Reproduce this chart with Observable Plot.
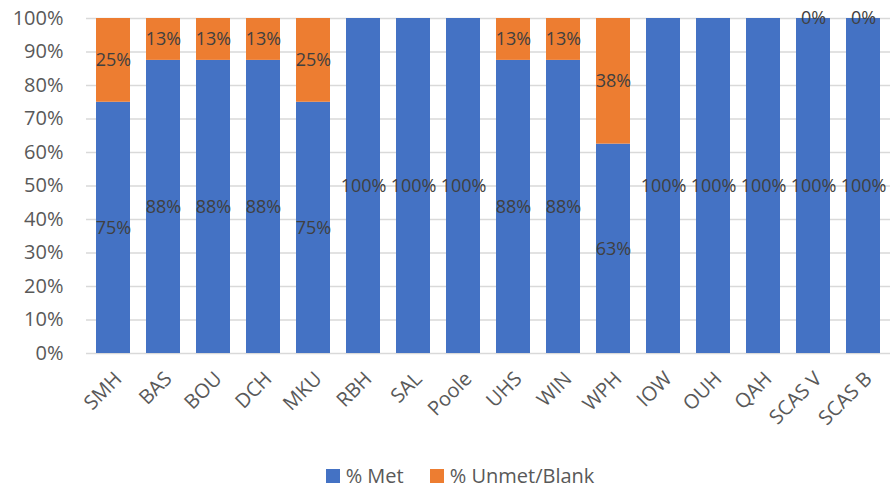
<!DOCTYPE html>
<html>
<head>
<meta charset="utf-8">
<script src="https://cdn.jsdelivr.net/npm/d3@7"></script>
<script src="https://cdn.jsdelivr.net/npm/@observablehq/plot@0.6"></script>
<style>
  body { margin: 0; background: #fff; font-family: "Open Sans", sans-serif; }
  #legend { height: 31px; line-height: 31px; display: flex; justify-content: center; align-items: center; font-size: 20px; color: #595959; padding-left: 28px; }
  .sw { display: inline-block; width: 14px; height: 14px; margin-right: 6px; }
  .item { display: flex; align-items: center; margin: 0 13px; }
</style>
</head>
<body>
<div id="chart"></div>
<div id="legend"></div>
<script>
const categories = ["SMH","BAS","BOU","DCH","MKU","RBH","SAL","Poole","UHS","WIN","WPH","IOW","OUH","QAH","SCAS V","SCAS B"];
const metValues = [0.75,0.875,0.875,0.875,0.75,1,1,1,0.875,0.875,0.625,1,1,1,1,1];
const unmetValues = [0.25,0.125,0.125,0.125,0.25,null,null,null,0.125,0.125,0.375,null,null,null,0,0];
const seriesNames = ["% Met","% Unmet/Blank"];
const seriesColors = ["#4472C4","#ED7D31"];
const yTicks = [0,0.1,0.2,0.3,0.4,0.5,0.6,0.7,0.8,0.9,1];

const table = [];
categories.forEach((c, i) => {
  table.push({cat: c, series: seriesNames[0], value: metValues[i], labeled: metValues[i] !== null});
  table.push({cat: c, series: seriesNames[1], value: unmetValues[i] ?? 0, labeled: unmetValues[i] !== null});
});

const fmt = d3.format(".0%");
const chart = Plot.plot({
  width: 892,
  height: 460,
  marginTop: 18,
  marginBottom: 107,
  marginLeft: 86,
  marginRight: 2,
  style: {fontFamily: "Open Sans, sans-serif", background: "white"},
  x: {domain: categories, paddingInner: 0.33, paddingOuter: 0.18, label: null},
  y: {domain: [0, 1], label: null},
  color: {domain: seriesNames, range: seriesColors},
  marks: [
    Plot.ruleY(yTicks, {stroke: "#d9d9d9", strokeWidth: 1.5}),
    Plot.barY(table, Plot.stackY({x: "cat", y: "value", z: "series", fill: "series", order: seriesNames})),
    Plot.text(table, Plot.stackY({x: "cat", y: "value", z: "series", order: seriesNames,
      text: d => Math.round(d.value * 100) + "%", filter: d => d.labeled,
      fill: "#404040", fontSize: 18})),
    Plot.axisY({ticks: yTicks, tickFormat: fmt, tickSize: 0, tickPadding: 23, fontSize: 20, color: "#595959", label: null}),
    Plot.axisX({tickRotate: -45, tickSize: 0, tickPadding: 22, dx: 5, fontSize: 20, color: "#595959", label: null})
  ]
});
document.getElementById("chart").appendChild(chart);

const legend = document.getElementById("legend");
seriesNames.forEach((n, i) => {
  const item = document.createElement("span");
  item.className = "item";
  const sw = document.createElement("span");
  sw.className = "sw";
  sw.style.background = seriesColors[i];
  item.appendChild(sw);
  item.appendChild(document.createTextNode(n));
  legend.appendChild(item);
});
</script>
</body>
</html>
